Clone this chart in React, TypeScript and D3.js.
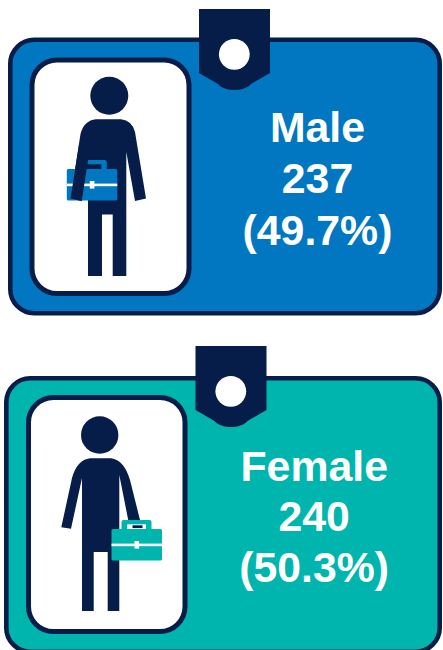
import { useEffect, useRef } from "react";
import * as d3 from "d3";

const categories = ["Male", "Female"];
const counts = [237, 240];
const shares = [49.7, 50.3];

const NAVY = "#061c49";
const fills = ["#0077c0", "#00b5ad"];

// where each card sits on the page
const layouts = [
  { left: 8, top: 37.5, right: 442, bottom: 315.5, innerX: 29.5, innerY: 57.5, innerR: 191.5, innerB: 296, tagX: 199, tagY: 9, textX: 317.5, base: 141.7, step: 51.7 },
  { left: 4, top: 376, right: 442, bottom: 654, innerX: 26, innerY: 395, innerR: 187.5, innerB: 634, tagX: 195.5, tagY: 346, textX: 314.2, base: 480.6, step: 50.8 },
];

function drawCase(g: any, x: number, y: number, color: string, opening: string) {
  // handle
  g.append("rect").attr("x", x + 10).attr("y", y - 9).attr("width", 30).attr("height", 14).attr("rx", 2).attr("fill", color);
  g.append("rect").attr("x", x + 15.7).attr("y", y - 4.7).attr("width", 18.8).attr("height", 4.7).attr("fill", opening);
  // body
  g.append("rect").attr("width", 50.5).attr("height", 31.5).attr("x", x).attr("y", y).attr("rx", 1.5).attr("fill", color);
  g.append("rect").attr("x", x).attr("y", y + 14.6).attr("width", 50.5).attr("height", 2.6).attr("fill", "#fff");
  g.append("rect").attr("x", x + 23).attr("y", y + 12).attr("width", 4.6).attr("height", 7.6).attr("fill", "#fff");
}

export default function App() {
  const svgRef = useRef<SVGSVGElement>(null);

  useEffect(() => {
    const svg = d3.select(svgRef.current);
    svg.selectAll("*").remove();
    svg.attr("width", 443).attr("height", 650);

    categories.forEach((name, i) => {
      const l = layouts[i];
      const g = svg.append("g");

      // card
      g.append("rect")
        .attr("x", l.left + 2.3).attr("y", l.top + 2.3)
        .attr("width", l.right - l.left - 4.6).attr("height", l.bottom - l.top - 4.6)
        .attr("rx", 24).attr("fill", fills[i]).attr("stroke", NAVY).attr("stroke-width", 4.6);

      // white panel
      g.append("rect")
        .attr("x", l.innerX + 2.5).attr("y", l.innerY + 2.5)
        .attr("width", l.innerR - l.innerX - 5).attr("height", l.innerB - l.innerY - 5)
        .attr("rx", 25).attr("fill", "#fff").attr("stroke", NAVY).attr("stroke-width", 5);

      // tag on top of the card
      const tag = d3.path();
      tag.moveTo(l.tagX, l.tagY);
      tag.lineTo(l.tagX + 71, l.tagY);
      tag.lineTo(l.tagX + 71, l.tagY + 64);
      tag.lineTo(l.tagX + 52, l.tagY + 75);
      tag.bezierCurveTo(l.tagX + 45, l.tagY + 83, l.tagX + 26, l.tagY + 83, l.tagX + 19, l.tagY + 75);
      tag.lineTo(l.tagX, l.tagY + 64);
      tag.closePath();
      g.append("path").attr("d", tag.toString()).attr("fill", NAVY);
      g.append("circle").attr("cx", l.tagX + 35.3).attr("cy", l.tagY + 45.3).attr("r", 15.4).attr("fill", "#fff");

      if (i === 0) {
        g.append("circle").attr("cx", 109.3).attr("cy", 95.7).attr("r", 19).attr("fill", NAVY);
        const body = d3.path();
        body.moveTo(96, 119.3);
        body.lineTo(121, 119.3);
        body.quadraticCurveTo(132, 120.5, 135, 132);
        body.lineTo(146, 198.5);
        body.lineTo(135, 201);
        body.lineTo(126.3, 152);
        body.lineTo(126.3, 276);
        body.lineTo(112.7, 276);
        body.lineTo(112.7, 214.5);
        body.lineTo(102, 214.5);
        body.lineTo(102, 276);
        body.lineTo(88, 276);
        body.lineTo(88, 160);
        body.lineTo(81.7, 201);
        body.lineTo(70.5, 198.5);
        body.lineTo(80.5, 134);
        body.quadraticCurveTo(84, 120.5, 96, 119.3);
        body.closePath();
        g.append("path").attr("d", body.toString()).attr("fill", NAVY);
        // the handle opening shows the torso, and the arm passes over the case
        drawCase(g, 66.8, 169, fills[i], NAVY);
        const arm = d3.path();
        arm.moveTo(88.4, 158);
        arm.lineTo(81.7, 201);
        arm.lineTo(70.5, 198.5);
        arm.lineTo(79, 145);
        arm.closePath();
        g.append("path").attr("d", arm.toString()).attr("fill", NAVY);
      } else {
        g.append("circle").attr("cx", 99.7).attr("cy", 435).attr("r", 18.7).attr("fill", NAVY);
        const body = d3.path();
        body.moveTo(90, 458.3);
        body.lineTo(111, 458.3);
        body.quadraticCurveTo(124, 460, 130, 480);
        body.lineTo(140.5, 522);
        body.lineTo(129, 524);
        body.lineTo(119.3, 475);
        body.lineTo(119.3, 611);
        body.lineTo(107.7, 611);
        body.lineTo(107.7, 552);
        body.lineTo(93.7, 552);
        body.lineTo(93.7, 611);
        body.lineTo(82, 611);
        body.lineTo(82, 478);
        body.lineTo(71, 528.7);
        body.lineTo(61.3, 527.3);
        body.lineTo(72, 478);
        body.quadraticCurveTo(77, 460, 90, 458.3);
        body.closePath();
        g.append("path").attr("d", body.toString()).attr("fill", NAVY);
        drawCase(g, 111.5, 529, fills[i], "#fff");
        g.append("rect").attr("x", 132.5).attr("y", 525.3).attr("width", 10).attr("height", 2.8).attr("fill", NAVY);
      }

      // label
      const lines = [name, String(counts[i]), `(${shares[i].toFixed(1)}%)`];
      g.append("g")
        .selectAll("text")
        .data(lines)
        .enter()
        .append("text")
        .attr("x", l.textX)
        .attr("y", (_d, k) => l.base + k * l.step)
        .attr("text-anchor", "middle")
        .attr("font-family", "'Liberation Sans', Arial, sans-serif")
        .attr("font-weight", 700)
        .attr("font-size", 42.8)
        .attr("fill", "#fff")
        .text((d) => d);
    });
  }, []);

  return <svg ref={svgRef} style={{ position: "absolute", left: 0, top: 0, display: "block" }}></svg>;
}
